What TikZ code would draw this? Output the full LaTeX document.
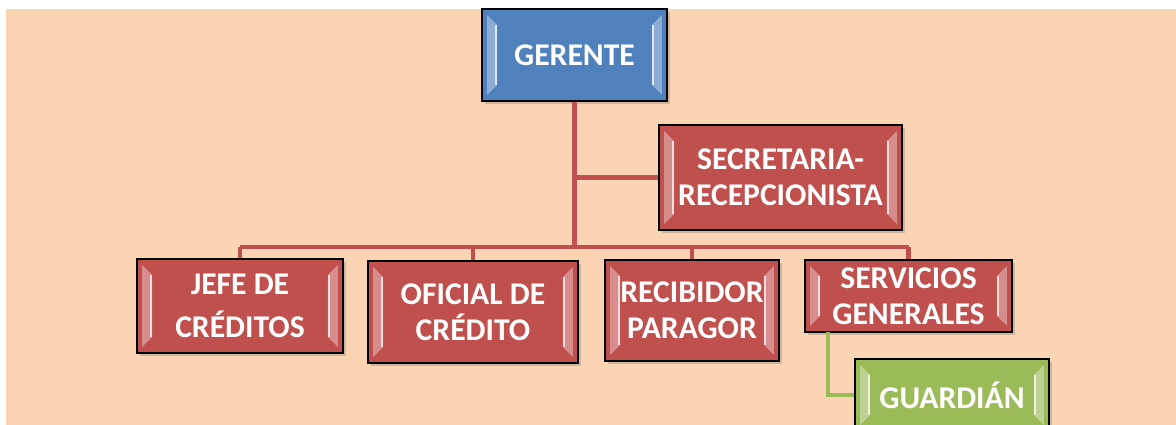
\documentclass[tikz,border=0pt]{standalone}
\usepackage{fontspec}
\setmainfont{Carlito}
\usetikzlibrary{shadows}

\definecolor{fondo}{HTML}{FBD4B4}
\definecolor{azul}{HTML}{4F81BD}
\definecolor{rojo}{HTML}{C0504D}
\definecolor{verde}{HTML}{9BBB59}

\tikzset{
  caja/.style={draw=black, line width=1pt, fill=#1, text=white,
    font=\fontsize{18}{20.5}\selectfont\bfseries, align=center, inner sep=0pt,
    drop shadow={shadow xshift=1.5pt, shadow yshift=-1.5pt, opacity=0.35},
    path picture={
      % bisel izquierdo
      \fill[white!35!#1]
        ([xshift=0.1cm,yshift=-0.12cm]path picture bounding box.north west)
        -- ([xshift=0.3cm,yshift=-0.32cm]path picture bounding box.north west)
        -- ([xshift=0.3cm,yshift=0.32cm]path picture bounding box.south west)
        -- ([xshift=0.1cm,yshift=0.12cm]path picture bounding box.south west) -- cycle;
      \draw[white!80!#1, line width=1.6pt]
        ([xshift=0.28cm,yshift=-0.32cm]path picture bounding box.north west)
        -- ([xshift=0.28cm,yshift=0.32cm]path picture bounding box.south west);
      % bisel derecho
      \fill[white!35!#1]
        ([xshift=-0.1cm,yshift=-0.12cm]path picture bounding box.north east)
        -- ([xshift=-0.3cm,yshift=-0.32cm]path picture bounding box.north east)
        -- ([xshift=-0.3cm,yshift=0.32cm]path picture bounding box.south east)
        -- ([xshift=-0.1cm,yshift=0.12cm]path picture bounding box.south east) -- cycle;
      \draw[white!80!#1, line width=1.6pt]
        ([xshift=-0.28cm,yshift=-0.32cm]path picture bounding box.north east)
        -- ([xshift=-0.28cm,yshift=0.32cm]path picture bounding box.south east);
    }},
  linea/.style={line width=2.8pt, draw=#1},
  linea/.default=rojo
}

\begin{document}
\begin{tikzpicture}[x=0.02cm, y=-0.02cm]

% fondo
\useasboundingbox (0,0) rectangle (1176,425);
\fill[fondo] (6,9) rectangle (1176,425);

% cajas
\node[caja=azul, minimum width=3.7cm, minimum height=1.84cm] (ger) at (574.5,55) {GERENTE};
\node[caja=rojo, minimum width=4.86cm, minimum height=2.1cm] (sec) at (780.5,177.5) {SECRETARIA-\\RECEPCIONISTA};
\node[caja=rojo, minimum width=4.12cm, minimum height=1.88cm] (jefe) at (240,306) {JEFE DE\\[4pt]CRÉDITOS};
\node[caja=rojo, minimum width=4.2cm, minimum height=2.04cm] (ofi) at (473,312) {OFICIAL DE\\CRÉDITO};
\node[caja=rojo, minimum width=3.48cm, minimum height=2.02cm] (rec) at (692,310.5) {RECIBIDOR\\PARAGOR};
\node[caja=rojo, minimum width=4.14cm, minimum height=1.44cm] (serv) at (908.5,296) {SERVICIOS\\GENERALES};
\node[caja=verde, minimum width=3.88cm, minimum height=1.44cm] (gua) at (952,395) {GUARDIÁN};

% conectores
\coordinate (barra) at (574,247);
\coordinate (codo) at (828,332);
\draw[linea] (ger.south) -- (ger.south |- barra);
\draw[linea] (ger.south |- sec.west) -- (sec.west);
\draw[linea] (jefe.north |- barra) -- (serv.north |- barra);
\foreach \n in {jefe,ofi,rec,serv}
  \draw[linea] (\n.north |- barra) -- (\n.north);
\draw[linea=verde] (codo) |- (gua.west);

\end{tikzpicture}
\end{document}
